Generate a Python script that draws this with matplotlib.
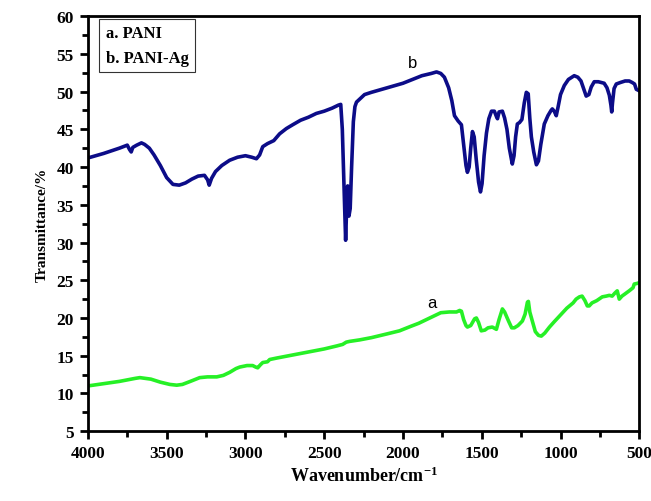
import numpy as np
import matplotlib
matplotlib.use("Agg")
import matplotlib.pyplot as plt
from matplotlib.lines import Line2D

plt.rcParams['font.family'] = ['Liberation Serif', 'DejaVu Serif']
plt.rcParams['mathtext.fontset'] = 'custom'
plt.rcParams['mathtext.rm'] = 'Liberation Serif'
plt.rcParams['mathtext.bf'] = 'Liberation Serif:bold'

# PANI-Ag (curve b)
wn_b = [4000, 3900, 3800, 3750, 3735, 3725, 3715, 3690, 3660, 3640, 3610, 3580,
        3540, 3500, 3460, 3420, 3380, 3340, 3300, 3260, 3240, 3230, 3215, 3190,
        3150, 3100, 3050, 3000, 2960, 2930, 2910, 2890, 2860, 2820, 2783, 2740,
        2700, 2650, 2600, 2550, 2500, 2450, 2410, 2395, 2385, 2375, 2364, 2356,
        2351, 2343, 2335, 2326, 2315, 2305, 2295, 2270, 2244, 2200, 2100, 2000,
        1940, 1880, 1820, 1787, 1760, 1737, 1710, 1690, 1673, 1650, 1629, 1615,
        1600, 1591, 1580, 1570, 1559, 1548, 1535, 1520, 1508, 1498, 1485, 1470,
        1455, 1438, 1420, 1405, 1400, 1390, 1369, 1355, 1340, 1325, 1306, 1295,
        1285, 1274, 1260, 1245, 1230, 1217, 1205, 1195, 1185, 1170, 1153, 1140,
        1125, 1103, 1080, 1060, 1052, 1040, 1027, 1015, 1000, 976, 950, 913,
        890, 870, 850, 837, 820, 805, 786, 760, 740, 723, 705, 690, 680, 675,
        670, 660, 646, 620, 590, 564, 545, 530, 519, 500]
t_b = [41.2, 41.8, 42.5, 42.9, 42.3, 42.0, 42.6, 42.9, 43.2, 43.0, 42.5, 41.6,
       40.2, 38.6, 37.7, 37.6, 37.9, 38.4, 38.8, 38.9, 38.3, 37.6, 38.5, 39.4,
       40.2, 40.9, 41.3, 41.5, 41.3, 41.1, 41.6, 42.7, 43.1, 43.5, 44.4, 45.1,
       45.6, 46.2, 46.6, 47.1, 47.4, 47.8, 48.2, 48.3, 45.0, 38.0, 30.3, 35.5,
       37.5, 33.5, 34.5, 40.0, 46.0, 48.0, 48.6, 49.1, 49.6, 49.9, 50.5, 51.1,
       51.6, 52.1, 52.4, 52.6, 52.4, 51.9, 50.5, 48.8, 46.8, 46.1, 45.6, 43.0,
       40.2, 39.3, 40.0, 42.5, 44.7, 44.0, 41.0, 38.0, 36.7, 37.8, 41.5, 44.5,
       46.4, 47.4, 47.4, 46.6, 46.4, 47.3, 47.4, 46.5, 45.0, 42.5, 40.4, 41.5,
       44.0, 45.7, 45.9, 46.3, 48.5, 49.9, 49.7, 46.5, 44.0, 42.0, 40.3, 40.8,
       43.0, 45.7, 46.8, 47.5, 47.7, 47.4, 46.8, 48.0, 49.6, 50.8, 51.6, 52.1,
       51.9, 51.4, 50.2, 49.4, 49.6, 50.6, 51.3, 51.3, 51.2, 51.1, 50.5, 49.5,
       48.2, 47.3, 48.5, 50.4, 51.0, 51.2, 51.4, 51.4, 51.2, 51.0, 50.3, 50.1]

# PANI (curve a)
wn_a = [4000, 3900, 3800, 3700, 3670, 3600, 3540, 3480, 3436, 3400, 3350, 3290,
        3240, 3182, 3140, 3100, 3060, 3036, 2990, 2954, 2935, 2922, 2905, 2890,
        2860, 2846, 2800, 2750, 2700, 2600, 2500, 2420, 2383, 2360, 2339, 2275,
        2200, 2100, 2022, 1950, 1900, 1850, 1800, 1760, 1705, 1660, 1640, 1629,
        1615, 1600, 1591, 1570, 1545, 1534, 1520, 1503, 1480, 1460, 1433, 1407,
        1390, 1369, 1355, 1330, 1310, 1293, 1270, 1242, 1225, 1210, 1204, 1195,
        1179, 1160, 1140, 1122, 1100, 1070, 1040, 1000, 960, 920, 901, 880,
        863, 845, 830, 818, 800, 770, 735, 710, 690, 672, 655, 640, 627, 610,
        590, 564, 540, 532, 510, 500]
t_a = [11.0, 11.3, 11.6, 12.0, 12.1, 11.9, 11.5, 11.2, 11.1, 11.2, 11.6, 12.1,
       12.2, 12.2, 12.4, 12.8, 13.3, 13.5, 13.7, 13.7, 13.5, 13.4, 13.8, 14.1,
       14.2, 14.5, 14.7, 14.9, 15.1, 15.5, 15.9, 16.3, 16.5, 16.8, 16.9, 17.1,
       17.4, 17.9, 18.3, 18.9, 19.3, 19.8, 20.3, 20.7, 20.8, 20.8, 21.0, 20.9,
       19.8, 19.0, 18.8, 19.0, 19.9, 20.0, 19.4, 18.3, 18.4, 18.7, 18.8, 18.5,
       19.8, 21.2, 20.8, 19.6, 18.7, 18.7, 19.0, 19.6, 20.5, 22.1, 22.2, 20.8,
       19.6, 18.2, 17.7, 17.6, 18.0, 18.8, 19.5, 20.4, 21.3, 22.0, 22.5, 22.8,
       22.9, 22.3, 21.6, 21.6, 22.0, 22.3, 22.8, 22.9, 23.0, 22.9, 23.3, 23.6,
       22.5, 22.9, 23.2, 23.6, 24.0, 24.5, 24.6, 24.7]

legend_labels = ['a. PANI', 'b. PANI-Ag']

fig = plt.figure(figsize=(6.51, 5.02), dpi=100)
ax = fig.add_axes([0.135, 0.139, 0.847, 0.827])

ax.plot(wn_b, t_b, color='#0c0c88', lw=2.6, solid_joinstyle='round')
ax.plot(wn_a, t_a, color='#26f026', lw=2.6, solid_joinstyle='round')

ax.text(1940, 52.8, 'b', fontfamily='Liberation Sans', fontsize=12, ha='center', va='bottom')
ax.text(1819, 21.1, 'a', fontfamily='Liberation Sans', fontsize=12, ha='center', va='bottom')

ax.set_xlim(4000, 500)
ax.set_ylim(5, 60)
ax.set_xticks(np.arange(4000, 499, -500))
ax.set_xticks(np.arange(3750, 500, -500), minor=True)
ax.set_yticks(np.arange(5, 61, 5))
ax.set_yticks(np.arange(7.5, 60, 5), minor=True)

for s in ax.spines.values():
    s.set_linewidth(2)
ax.tick_params(which='major', direction='out', length=6, width=2, labelsize=12.5,
               top=False, right=False, pad=4)
ax.tick_params(which='minor', direction='out', length=4, width=2,
               top=False, right=False)
for lab in ax.get_xticklabels() + ax.get_yticklabels():
    lab.set_fontweight('bold')

ax.set_xlabel(r'$\mathbf{Wavenumber/cm^{-1}}$', fontsize=13, labelpad=3)
ax.set_ylabel('Transmittance/%', fontsize=11, fontweight='bold', labelpad=6)

handles = [Line2D([], [], lw=0) for _ in legend_labels]
leg = ax.legend(handles, legend_labels, loc='upper left', handlelength=0,
                handletextpad=0, bbox_to_anchor=(0.02, 0.994), borderaxespad=0,
                fancybox=False,
                prop={'family': 'Liberation Serif', 'weight': 'bold', 'size': 12},
                labelspacing=0.5, borderpad=0.4)
leg.get_frame().set_edgecolor('black')
leg.get_frame().set_linewidth(0.8)

fig.savefig('out.png', dpi=100)
